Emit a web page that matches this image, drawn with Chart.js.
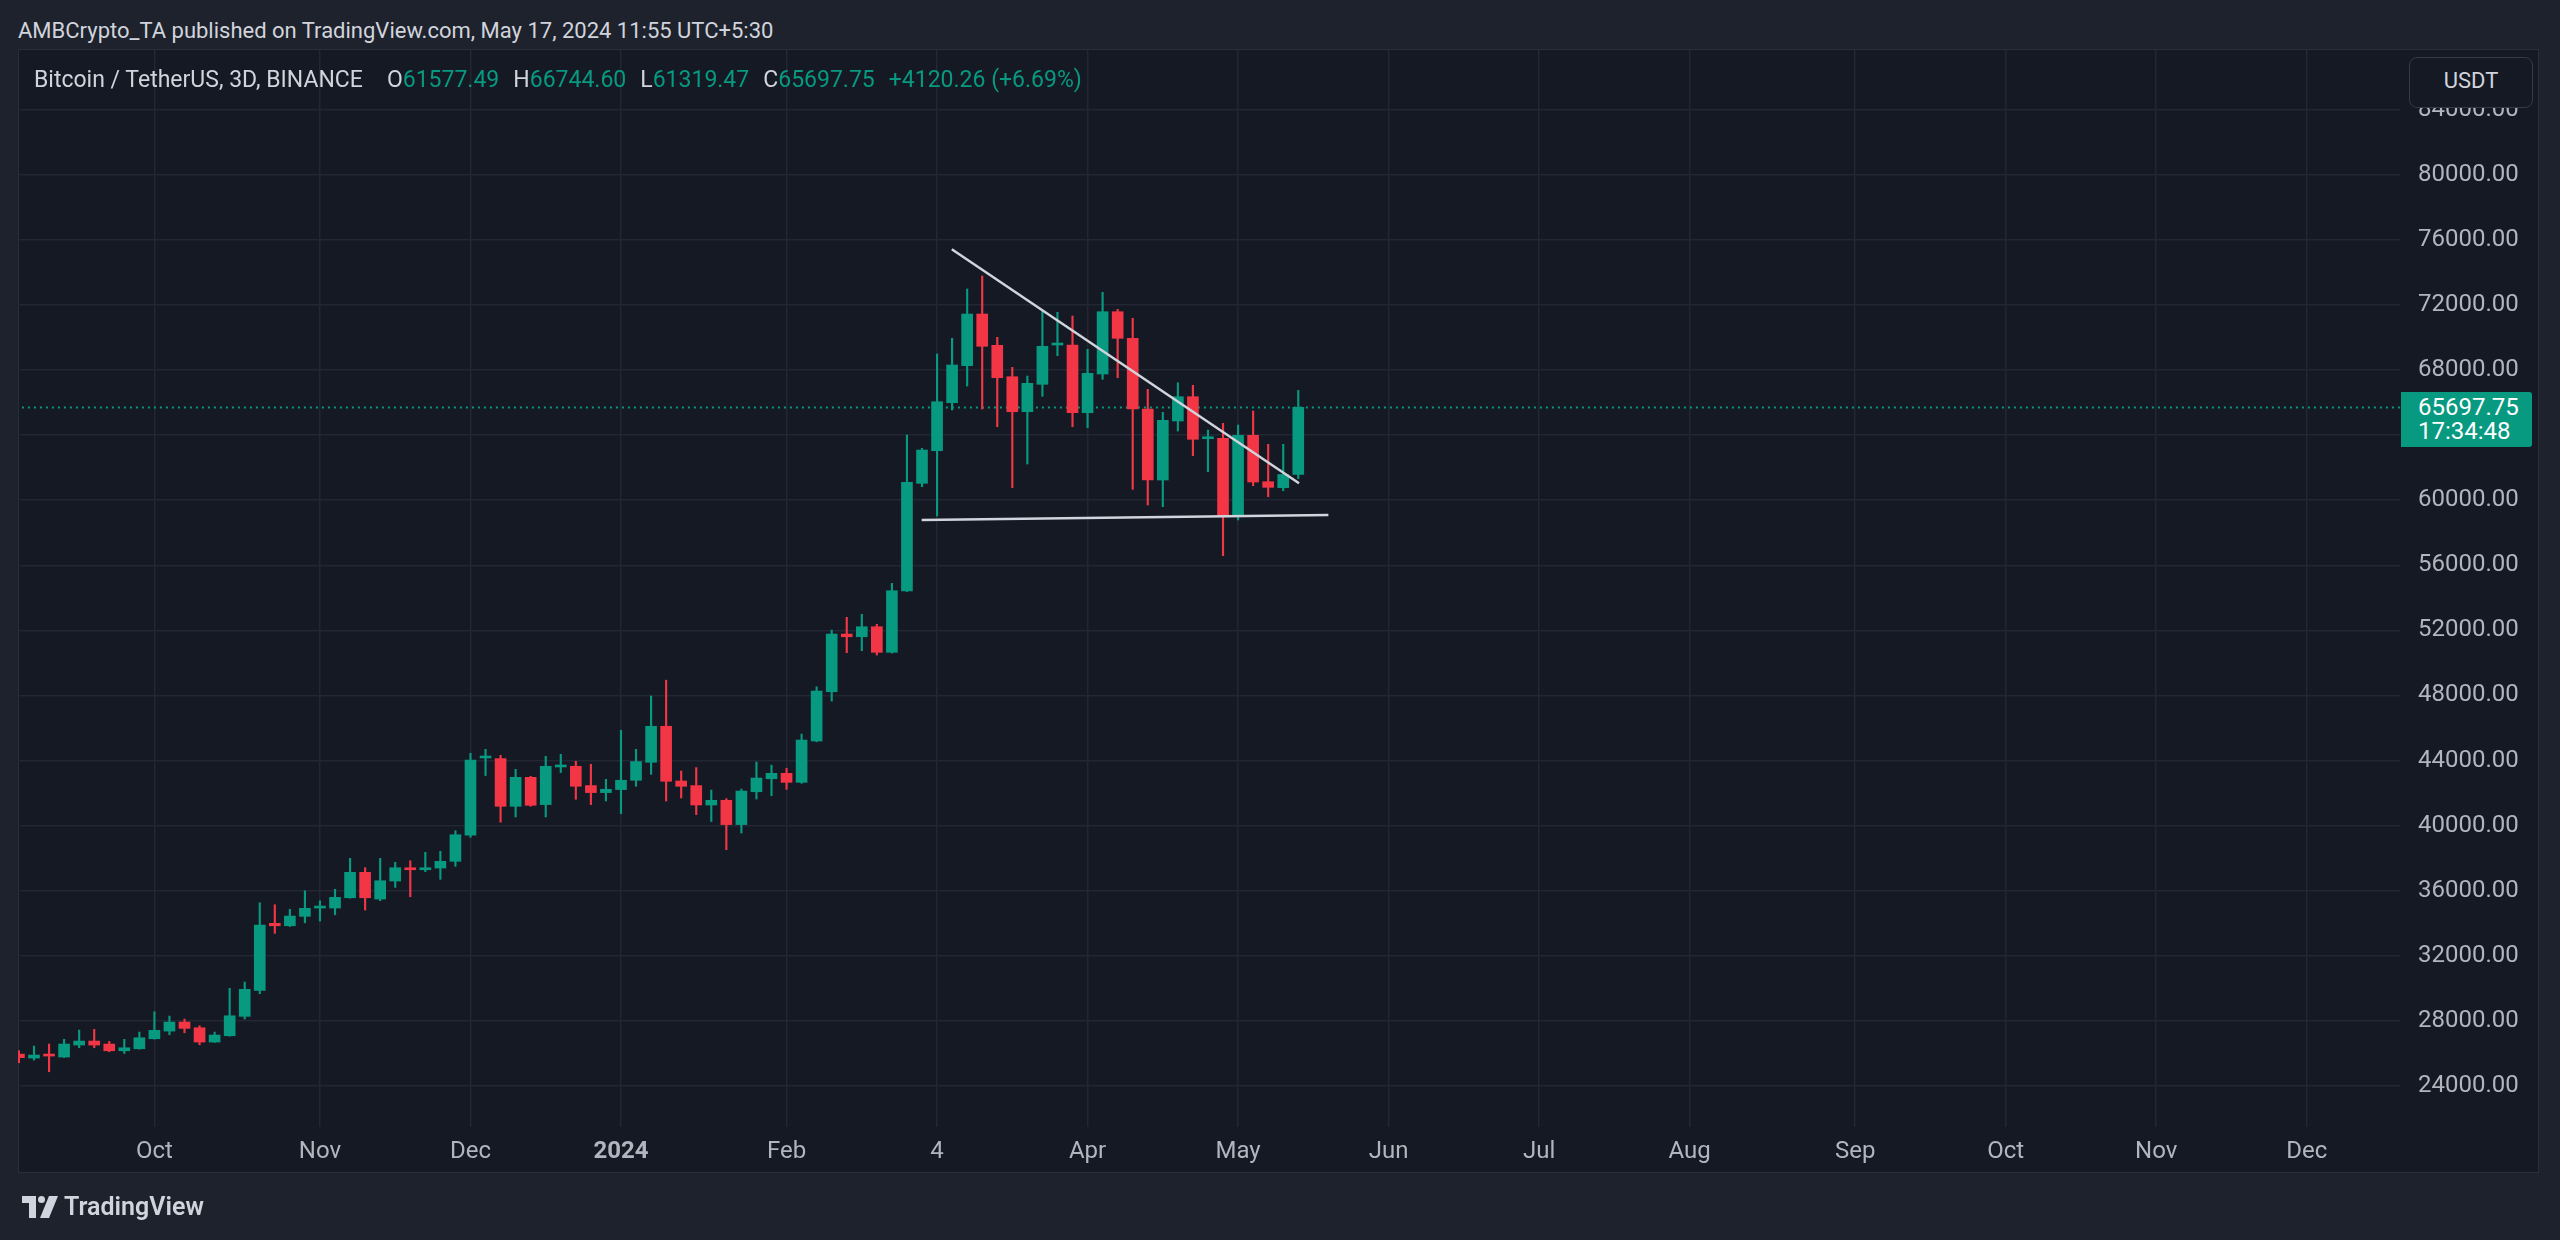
<!DOCTYPE html>
<html lang="en">
<head>
  <meta charset="UTF-8">
  <title>BTC/USDT 3D</title>
  <script src="https://cdn.jsdelivr.net/npm/chart.js"></script>
  <style>
    body {
      margin: 0;
      width: 2560px;
      height: 1240px;
      overflow: hidden;
      position: relative;
      background-color: #1e222d;
      font-family: Roboto, "Noto Sans", sans-serif;
      color: #d1d4dc;
    }

    #header {
      position: absolute;
      left: 18px;
      top: 16px;
      font-size: 22px;
      line-height: 30px;
    }

    #pane {
      position: absolute;
      left: 18px;
      top: 49px;
      width: 2521px;
      height: 1124px;
      background-color: #151924;
      border: 1px solid #2a2e39;
      box-sizing: border-box;
    }

    #wrap {
      position: absolute;
      left: 0;
      top: 0;
      width: 2560px;
      height: 1240px;
    }

    #legend {
      position: absolute;
      left: 34px;
      top: 66px;
      font-size: 23px;
      line-height: 28px;
      color: #d1d4dc;
      white-space: pre;
    }

    #legend .v { color: #089981; }
    #legend .k { margin-left: 14px; }
    #legend .k.first { margin-left: 24px; }

    #usdt {
      position: absolute;
      left: 2409px;
      top: 57px;
      width: 124px;
      height: 51px;
      box-sizing: border-box;
      border: 1px solid #363a45;
      border-radius: 8px;
      background-color: #151924;
      font-size: 22px;
      line-height: 46px;
      text-align: center;
      color: #d1d4dc;
    }

    #tag {
      position: absolute;
      left: 2401px;
      width: 131px;
      height: 55px;
      background-color: #089981;
      color: #ffffff;
      font-size: 24px;
      line-height: 24px;
      padding-top: 3px;
      padding-left: 17px;
      box-sizing: border-box;
      border-radius: 0 3px 3px 0;
    }

    #footer {
      position: absolute;
      left: 22px;
      top: 1192px;
      display: flex;
      align-items: center;
      gap: 6px;
      font-size: 25px;
      font-weight: 600;
      color: #d1d4dc;
    }
  </style>
</head>
<body>
  <div id="header">AMBCrypto_TA published on TradingView.com, May 17, 2024 11:55 UTC+5:30</div>
  <div id="pane"></div>
  <div id="wrap"><canvas id="chart"></canvas></div>
  <div id="legend">Bitcoin / TetherUS, 3D, BINANCE<span class="k first">O</span><span class="v">61577.49</span><span class="k">H</span><span class="v">66744.60</span><span class="k">L</span><span class="v">61319.47</span><span class="k">C</span><span class="v">65697.75</span><span class="k v">+4120.26 (+6.69%)</span></div>
  <div id="usdt">USDT</div>
  <div id="tag">65697.75<br>17:34:48</div>
  <div id="footer">
    <svg width="36" height="22" viewBox="0 0 36 22">
      <path d="M0 0h14v22H7V7H0z" fill="#d1d4dc"/>
      <circle cx="19.5" cy="3.5" r="3.5" fill="#d1d4dc"/>
      <path d="M27 0h9l-9 22h-9z" fill="#d1d4dc"/>
    </svg>
    <span>TradingView</span>
  </div>

  <script>
    // 3D candles, Sep 2023 -> May 2024
    const candleOpen = [
      25960, 25717, 25962, 25778, 26516, 26761, 26577, 26165, 26288, 26903,
      27375, 27929, 27579, 26700, 27087, 28279, 29877, 33995, 33847, 34425,
      34935, 34935, 35568, 37129, 35488, 36594, 37393, 37289, 37393, 37805,
      39421, 44155, 44118, 41187, 42969, 41292, 43605, 43646, 42460, 42030,
      42214, 42786, 43892, 46104, 42743, 42460, 41268, 41557, 40064, 42081,
      42880, 43212, 42659, 45198, 48227, 51773, 51607, 52222, 50649, 54416,
      61035, 63038, 65988, 68262, 71439, 69516, 67586, 65435, 67119, 69534,
      69534, 65374, 67752, 71581, 69946, 65601, 61238, 64864, 66357, 63776,
      63800, 59025, 63985, 61133, 60765, 61577.49
    ];
    const candleHigh = [
      26170, 26454, 26577, 26866, 27437, 27480, 26740, 26866, 27314, 28564,
      28298, 28113, 27702, 27314, 30000, 30387, 35262, 35138, 34855, 35998,
      35383, 36084, 37989, 37412, 37989, 37744, 37842, 38358, 38420, 39686,
      44442, 44688, 44319, 43461, 43031, 44261, 44384, 43953, 43770, 42847,
      45859, 44688, 47966, 48938, 43357, 43566, 42186, 41661, 42247, 43906,
      43716, 43523, 45627, 48535, 52019, 52800, 52984, 52370, 54889, 64003,
      63186, 68981, 69946, 72976, 73775, 70007, 68164, 67629, 71667, 71544,
      71316, 69270, 72773, 71728, 71175, 66812, 65398, 67217, 67057, 64311,
      64722, 64618, 65478, 63432, 63432, 66744.60
    ];
    const candleLow = [
      25430, 25594, 24875, 25750, 26350, 26350, 26104, 26002, 26260, 26880,
      27148, 27273, 26534, 26680, 27060, 28113, 29668, 33380, 33800, 34031,
      34136, 34523, 35540, 34812, 35383, 36201, 35629, 37166, 36699, 37498,
      39280, 43076, 40209, 40530, 41187, 40530, 43261, 41618, 41292, 41513,
      40739, 42417, 43154, 41513, 41698, 40678, 40251, 38522, 39544, 41636,
      41845, 42228, 42600, 45150, 47655, 50624, 50747, 50483, 50600, 54380,
      60826, 59025, 65540, 67014, 65601, 64513, 60765, 62221, 66382, 68877,
      64513, 64452, 67426, 67525, 60666, 59701, 59597, 64249, 62731, 61748,
      56586, 58780, 60887, 60211, 60580, 61319.47
    ];
    const candleClose = [
      25740, 25901, 25839, 26577, 26761, 26516, 26165, 26350, 26964, 27419,
      27929, 27542, 26700, 27130, 28316, 29939, 33890, 33847, 34443, 34916,
      35015, 35592, 37129, 35568, 36613, 37412, 37289, 37412, 37805, 39440,
      44030, 44216, 41187, 42969, 41249, 43646, 43709, 42417, 42030, 42233,
      42786, 43935, 46104, 42724, 42417, 41268, 41557, 40064, 42124, 42923,
      43212, 42659, 45259, 48270, 51773, 51607, 52222, 50649, 54434, 61096,
      63081, 66050, 68305, 71439, 69454, 67525, 65435, 67180, 69454, 69639,
      65374, 67795, 71581, 69946, 65601, 61238, 64907, 66357, 63739, 63862,
      59025, 63985, 61115, 60789, 61577, 65697.75
    ];

    // time axis: candle index of each month label
    const monthTickIndex = [9, 20, 30, 40, 51, 61, 71, 81, 91, 101, 111, 122, 132, 142, 152];
    const monthTickLabels = ['Oct', 'Nov', 'Dec', '2024', 'Feb', '4', 'Apr', 'May', 'Jun', 'Jul', 'Aug', 'Sep', 'Oct', 'Nov', 'Dec'];
    const priceTicks = [24000, 28000, 32000, 36000, 40000, 44000, 48000, 52000, 56000, 60000, 64000, 68000, 72000, 76000, 80000, 84000];

    // drawn trendlines (candle index, price)
    const resistanceX = [61.98, 85.05];
    const resistanceY = [75415, 61035];
    const supportX = [59.98, 87.0];
    const supportY = [58780, 59087];

    const lastClose = 65697.75;

    const UP = '#089981';
    const DOWN = '#f23645';
    const candleColors = candleClose.map((c, i) => c >= candleOpen[i] ? UP : DOWN);

    const bodies = candleOpen.map((o, i) => ({ x: i, y: [o, candleClose[i]] }));
    const wicks = candleLow.map((l, i) => ({ x: i, y: [l, candleHigh[i]] }));

    const tag = document.getElementById('tag');

    const ctx = document.getElementById('chart').getContext('2d');
    const chart = new Chart(ctx, {
      type: 'bar',
      data: {
        datasets: [
          {
            type: 'line',
            data: resistanceX.map((x, i) => ({ x: x, y: resistanceY[i] })),
            borderColor: '#d1d4dc',
            borderWidth: 2.5,
            pointRadius: 0
          },
          {
            type: 'line',
            data: supportX.map((x, i) => ({ x: x, y: supportY[i] })),
            borderColor: '#d1d4dc',
            borderWidth: 2.5,
            pointRadius: 0
          },
          {
            data: bodies,
            backgroundColor: candleColors,
            barThickness: 11,
            minBarLength: 2,
            grouped: false
          },
          {
            data: wicks,
            backgroundColor: candleColors,
            barThickness: 1.5,
            grouped: false
          },
          {
            type: 'line',
            data: [{ x: -1, y: lastClose }, { x: 170, y: lastClose }],
            borderColor: '#089981',
            borderWidth: 2,
            borderDash: [2, 4],
            pointRadius: 0
          }
        ]
      },
      options: {
        responsive: true,
        maintainAspectRatio: false,
        animation: false,
        events: [],
        layout: {
          padding: { left: 18, top: 50, right: 20, bottom: 66 }
        },
        plugins: {
          legend: { display: false },
          tooltip: { enabled: false }
        },
        scales: {
          x: {
            type: 'linear',
            min: -0.063,
            max: 158.2,
            offset: false,
            grid: { color: '#232733', lineWidth: 1.5, drawTicks: false, offset: false },
            border: { display: false },
            afterFit: (scale) => { scale.height = 47; },
            afterBuildTicks: (scale) => {
              scale.ticks = monthTickIndex.map(v => ({ value: v }));
            },
            ticks: {
              padding: 11,
              color: '#b2b5be',
              maxRotation: 0,
              autoSkip: false,
              font: (c) => ({
                family: 'Roboto',
                size: 24,
                weight: monthTickLabels[c.index] === '2024' ? 'bold' : 'normal'
              }),
              callback: (value, index) => monthTickLabels[index]
            }
          },
          y: {
            position: 'right',
            min: 21480,
            max: 87663,
            grid: { color: '#232733', lineWidth: 1.5, drawTicks: false },
            border: { display: false },
            afterFit: (scale) => { scale.width = 140; },
            afterBuildTicks: (scale) => {
              scale.ticks = priceTicks.map(v => ({ value: v }));
            },
            ticks: {
              padding: 18,
              color: '#b2b5be',
              font: { family: 'Roboto', size: 24 },
              callback: (value) => value.toFixed(2)
            }
          }
        }
      },
      plugins: [{
        id: 'priceTag',
        afterRender: (c) => {
          const y = c.scales.y.getPixelForValue(lastClose);
          tag.style.top = Math.round(y - 15) + 'px';
        }
      }]
    });
  </script>
</body>
</html>
